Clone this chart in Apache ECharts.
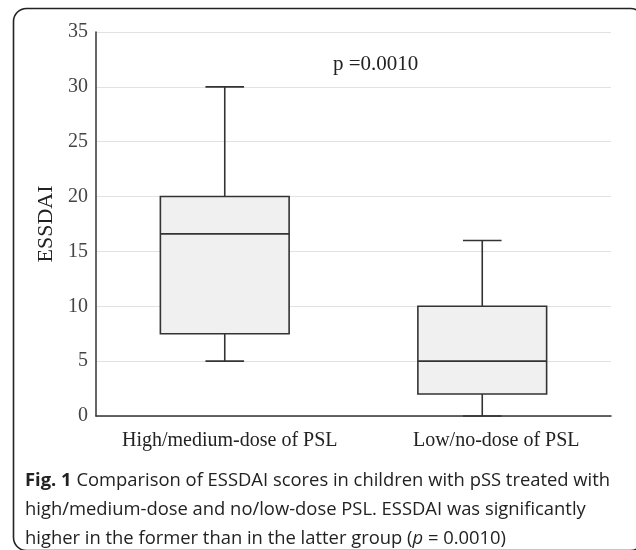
<!DOCTYPE html>
<html>
<head>
<meta charset="utf-8">
<script src="https://cdn.jsdelivr.net/npm/echarts@6/dist/echarts.min.js"></script>
<style>
  html, body { margin: 0; padding: 0; background: #fff; }
  #chart1 { width: 636px; height: 550px; }
</style>
</head>
<body>
<div id="chart1"></div>
<script>
// 数据
var categories = ['High/medium-dose of PSL', 'Low/no-dose of PSL'];
// [min, Q1, median, Q3, max]
var boxValues = [
    [5, 7.5, 16.6, 20, 30],
    [0, 2, 5, 10, 16]
];
var pText = 'p =0.0010';
var yMin = 0, yMax = 35, yStep = 5;

var serif = '"Liberation Serif", "DejaVu Serif", serif';
var sans = '"Open Sans", "Noto Sans", sans-serif';
var ink = '#333';

var seriesData = boxValues.map(function (v, i) {
    return [i].concat(v);
});

function renderBox(params, api) {
    var idx = api.value(0);
    var lo = api.coord([idx, api.value(1)]);
    var q1 = api.coord([idx, api.value(2)]);
    var med = api.coord([idx, api.value(3)]);
    var q3 = api.coord([idx, api.value(4)]);
    var hi = api.coord([idx, api.value(5)]);
    var band = api.size([1, 0])[0];
    var bw = band * 0.5;   // 箱体宽度
    var cw = band * 0.15;  // 须线端宽度
    var cx = med[0];
    var ls = { stroke: ink, lineWidth: 1.6, fill: null };
    return {
        type: 'group',
        children: [
            { type: 'line', shape: { x1: cx, y1: hi[1], x2: cx, y2: q3[1] }, style: ls },
            { type: 'line', shape: { x1: cx - cw / 2, y1: hi[1], x2: cx + cw / 2, y2: hi[1] }, style: ls },
            { type: 'line', shape: { x1: cx, y1: lo[1], x2: cx, y2: q1[1] }, style: ls },
            { type: 'line', shape: { x1: cx - cw / 2, y1: lo[1], x2: cx + cw / 2, y2: lo[1] }, style: ls },
            {
                type: 'rect',
                shape: { x: cx - bw / 2, y: q3[1], width: bw, height: q1[1] - q3[1] },
                style: { fill: '#f0f0f0', stroke: ink, lineWidth: 1.6 }
            },
            { type: 'line', shape: { x1: cx - bw / 2, y1: med[1], x2: cx + bw / 2, y2: med[1] }, style: ls }
        ]
    };
}

var option = {
    backgroundColor: '#fff',
    animation: false,
    grid: { left: 96, right: 25, top: 32, bottom: 134 },
    xAxis: {
        type: 'category',
        data: categories,
        axisLine: { lineStyle: { color: ink, width: 1.5 } },
        axisTick: { show: false },
        axisLabel: {
            interval: 0,
            margin: 15,
            formatter: function (v, i) {
                return i === 1 ? '{b|' + v + '}' : '{a|' + v + '}';
            },
            rich: {
                a: { fontFamily: serif, fontSize: 20, color: '#222', padding: [0, 0, 0, 10] },
                b: { fontFamily: serif, fontSize: 20, color: '#222', padding: [0, 0, 0, 28] }
            }
        }
    },
    yAxis: {
        type: 'value',
        min: yMin,
        max: yMax,
        interval: yStep,
        name: 'ESSDAI',
        nameLocation: 'middle',
        nameRotate: 90,
        nameGap: 38,
        nameTextStyle: { fontFamily: serif, fontSize: 22, color: '#222' },
        axisLine: { show: true, lineStyle: { color: ink, width: 1.5 } },
        axisTick: { show: false },
        axisLabel: { fontFamily: serif, fontSize: 20, color: '#444', margin: 8 },
        splitLine: { lineStyle: { color: '#e2e2e2', width: 1.2 } }
    },
    graphic: [
        {
            type: 'rect',
            shape: { x: 13.5, y: 8.5, width: 630, height: 542, r: 13 },
            style: { fill: null, stroke: '#222', lineWidth: 1.6 },
            silent: true
        },
        {
            type: 'text',
            x: 333,
            y: 64,
            style: {
                text: pText,
                font: '21px ' + serif,
                fill: '#222',
                verticalAlign: 'middle'
            }
        },
        {
            type: 'text',
            left: 25,
            top: 466,
            style: {
                text: '{f|Fig. 1} Comparison of ESSDAI scores in children with pSS treated with\n' +
                      'high/medium-dose and no/low-dose PSL. ESSDAI was significantly\n' +
                      'higher in the former than in the latter group ({i|p} = 0.0010)',
                font: '18.4px ' + sans,
                fill: '#222',
                lineHeight: 29,
                rich: {
                    f: { fontFamily: sans, fontSize: 18.4, fontWeight: 'bold', fill: '#222', lineHeight: 29 },
                    i: { fontFamily: sans, fontSize: 18.4, fontStyle: 'italic', fill: '#222', lineHeight: 29 }
                }
            }
        }
    ],
    series: [{
        type: 'custom',
        renderItem: renderBox,
        encode: { x: 0, y: [1, 2, 3, 4, 5] },
        data: seriesData
    }]
};

var myChart = echarts.init(document.getElementById('chart1'));
myChart.setOption(option);
</script>
</body>
</html>
